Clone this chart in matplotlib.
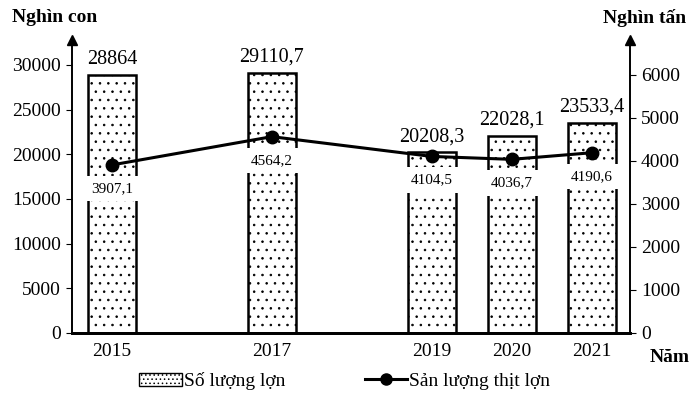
import matplotlib.pyplot as plt
import matplotlib as mpl

plt.rcParams['font.family'] = ['Liberation Serif', 'DejaVu Serif']
mpl.rcParams['hatch.linewidth'] = 0.6

nam = [2015, 2017, 2019, 2020, 2021]
so_luong_lon = [28864, 29110.7, 20208.3, 22028.1, 23533.4]
san_luong_thit = [3907.1, 4564.2, 4104.5, 4036.7, 4190.6]
nhan_bar = ["28864", "29110,7", "20208,3", "22028,1", "23533,4"]
nhan_line = ["3907,1", "4564,2", "4104,5", "4036,7", "4190,6"]

fig = plt.figure(figsize=(6.92, 3.95), dpi=100)
ax = fig.add_axes([0.104, 0.157, 0.806, 0.742])
ax2 = ax.twinx()

# cot - so luong lon
ax.bar(nam, so_luong_lon, width=0.6, color="white", edgecolor="black",
       linewidth=1.8, hatch="..")
for x, y, t in zip(nam, so_luong_lon, nhan_bar):
    ax.text(x, y + 700, t, ha="center", va="bottom", fontsize=14.5)

ax.set_xlim(2014.5, 2021.475)
ax.set_ylim(0, 32800)
ax.set_yticks(range(0, 30001, 5000))
ax.set_xticks(nam)
ax.tick_params(axis="x", length=0, labelsize=14, pad=7)
ax.tick_params(axis="y", labelsize=14, direction="out", length=4, pad=4)

# duong - san luong thit
ax2.plot(nam, san_luong_thit, color="black", linewidth=2.2, marker="o", markersize=9)
for x, y, t in zip(nam, san_luong_thit, nhan_line):
    ax2.annotate(t, (x, y), xytext=(0, -17), textcoords="offset points",
                 ha="center", va="center", fontsize=11,
                 bbox=dict(boxstyle="square,pad=0.4", fc="white", ec="none"))
ax2.set_ylim(0, 6814)
ax2.set_yticks(range(0, 6001, 1000))
ax2.tick_params(axis="y", labelsize=14, direction="out", length=4, pad=4)

for a in (ax, ax2):
    a.spines["top"].set_visible(False)
    a.spines["left"].set_linewidth(1.2)
    a.spines["right"].set_linewidth(1.2)
    a.spines["bottom"].set_linewidth(2)

# mui ten truc
ax.plot(0, 1, "^k", markersize=7, transform=ax.transAxes, clip_on=False)
ax.plot(1, 1, "^k", markersize=7, transform=ax.transAxes, clip_on=False)

fig.text(0.018, 0.978, "Nghìn con", fontsize=14, fontweight="bold", va="top")
fig.text(0.992, 0.978, "Nghìn tấn", fontsize=14, fontweight="bold", va="top", ha="right")
fig.text(0.997, 0.095, "Năm", fontsize=14, fontweight="bold", va="center", ha="right")

# chu giai
h1 = mpl.patches.Patch(facecolor="white", edgecolor="black", hatch="....", label="Số lượng lợn")
h2 = mpl.lines.Line2D([], [], color="black", linewidth=2.2, marker="o", markersize=8,
                      label="Sản lượng thịt lợn")
fig.legend(handles=[h1, h2], loc="center", bbox_to_anchor=(0.498, 0.035), ncol=2,
           frameon=False, fontsize=14, columnspacing=4.1, handlelength=2.2,
           handletextpad=0.1)

fig.savefig("out.png", dpi=100)
